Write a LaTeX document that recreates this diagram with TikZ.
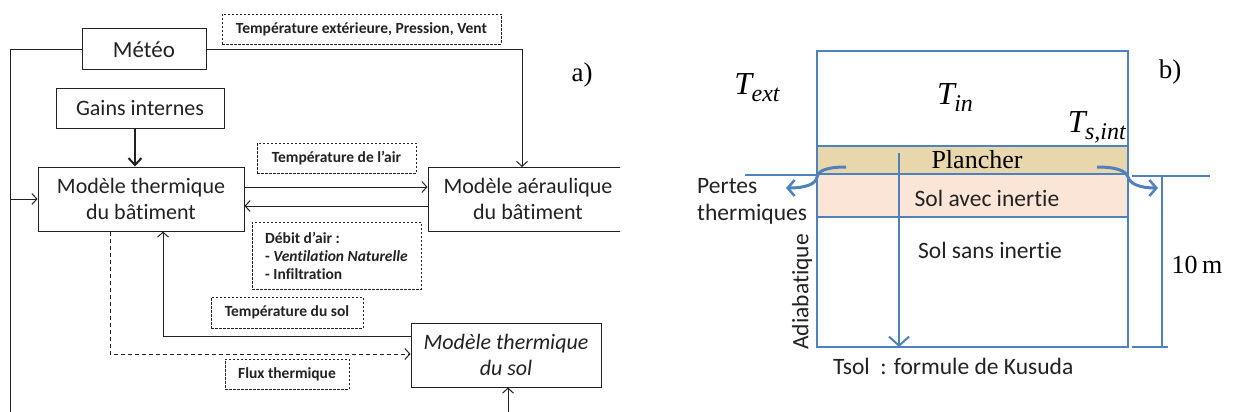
\documentclass[tikz,border=0pt]{standalone}
\usepackage{fontspec}
\setmainfont{Carlito}[Ligatures=NoCommon]
\newfontfamily\tnr{Liberation Serif}
\usetikzlibrary{arrows.meta}
\definecolor{bl}{HTML}{4F81BD}
\definecolor{sand}{HTML}{E8D6AC}
\definecolor{peach}{HTML}{FBE5D6}
\definecolor{ink}{HTML}{222222}
\newcommand{\Tsub}[1]{{\tnr\itshape\fontsize{32}{36}\selectfont T\kern-0.02em\raisebox{-0.22em}{\tnr\itshape\fontsize{24}{24}\selectfont #1}}}
\begin{document}
\begin{tikzpicture}[x=1pt,y=-1pt,
  box/.style={draw=ink,line width=1pt,inner sep=0pt,align=center,text=ink,font=\fontsize{22}{26}\selectfont},
  lab/.style={draw=ink,line width=0.9pt,dash pattern=on 2.5pt off 1.5pt,inner sep=0pt,text=ink,font=\bfseries\fontsize{15.5}{18}\selectfont},
  arr/.style={draw=ink,line width=1pt,-{Straight Barb[length=5pt,width=11pt]}},
  conn/.style={draw=ink,line width=1pt},
  barr/.style={draw=bl,line width=2pt,-{Straight Barb[length=9pt,width=20pt,line width=2pt]}},
  carr/.style={draw=bl,line width=3pt,-{Straight Barb[length=7pt,width=16pt,line width=2.5pt]}},
  bline/.style={draw=bl,line width=2pt},
  rtxt/.style={text=ink,font=\fontsize{23.5}{28}\selectfont,inner sep=0pt},
  serif/.style={text=black,font=\tnr\fontsize{27}{31}\selectfont,inner sep=0pt}
]
\useasboundingbox (0,0) rectangle (1235,412);
\fill[white] (0,0) rectangle (1235,412);

% ---------- panel a) ----------
\node[box,minimum width=124,minimum height=41,font=\fontsize{23}{27}\selectfont] (meteo) at (144,49.5) {Météo};
\node[box,minimum width=168,minimum height=39] (gains) at (140,108.5) {Gains internes};
\node[box,minimum width=206,minimum height=64] (therm) at (141,199) {Modèle thermique\\du bâtiment};
\begin{scope}
  \clip (0,0) rectangle (620,412);
  \node[box,minimum width=200,minimum height=64] (aer) at (528,199) {Modèle aéraulique\\du bâtiment};
\end{scope}
\node[box,minimum width=190,minimum height=64,font=\itshape\fontsize{22}{26}\selectfont] (sol) at (506,355) {Modèle thermique\\du sol};

\node[lab,minimum width=279,minimum height=30] (l1) at (361.5,29) {Température extérieure, Pression, Vent};
\node[lab,minimum width=159,minimum height=30] (l2) at (336.5,158) {Température de l’air};
\node[lab,minimum width=169,minimum height=67,align=left] (l3) at (336.5,255.5) {Débit d’air :\\- \textit{Ventilation Naturelle}\\- Infiltration};
\node[lab,minimum width=152,minimum height=31] (l4) at (287,312.5) {Température du sol};
\node[lab,minimum width=124,minimum height=30] (l5) at (287,374) {Flux thermique};

\node[serif] (la) at (582,75) {a)};

\coordinate (lb) at (10,412);
\coordinate (lj) at (10,199);
\coordinate (ae) at (522,167);
\coordinate (c1) at (110,354);
\coordinate (c2) at (163,336);
\coordinate (c3) at (508,412);
\coordinate (g1) at (135,128);
\coordinate (up) at (0,187);
\coordinate (dn) at (0,206);

\draw[conn] (meteo.west) -| (lb);
\draw[arr] (lj) -- (therm.west);
\draw[arr] (meteo.east) -| (ae);
\draw[draw=ink,line width=2.2pt,-{Straight Barb[length=7pt,width=13pt,line width=2pt]}] (g1) -- (g1 |- therm.north);
\draw[arr] (therm.east |- up) -- (aer.west |- up);
\draw[arr] (aer.west |- dn) -- (therm.east |- dn);
\draw[arr,dash pattern=on 4pt off 3pt] (therm.south -| c1) |- (sol.west |- c1);
\draw[arr] (sol.west |- c2) -| (therm.south -| c2);
\draw[arr] (c3) -- (sol.south -| c3);

% ---------- panel b) ----------
\fill[sand] (817,146) rectangle (1128,174);
\fill[peach] (817,174) rectangle (1128,217);
\draw[bline] (817,51) rectangle (1128,347);
\draw[bline] (817,146) -- (1128,146);
\draw[bline] (817,174) -- (1128,174);
\draw[bline] (817,217) -- (1128,217);
\draw[bline] (745,175) -- (817,175);
\draw[bline] (1132,176) -- (1210,176);
\draw[bline] (1162,176) -- (1162,347);
\draw[bline] (1132,347) -- (1168,347);

\coordinate (va) at (899,153);
\coordinate (vb) at (899,347);
\draw[barr] (va) -- (vb);

\coordinate (cl0) at (846,167);
\coordinate (cl1) at (786,188);
\coordinate (cr0) at (1097,167);
\coordinate (cr1) at (1158,188);
\draw[carr] (cl0) .. controls (826,167) and (818,171) .. (817,177) .. controls (816,184) and (806,188) .. (cl1);
\draw[carr] (cr0) .. controls (1117,167) and (1126,171) .. (1128,177) .. controls (1130,184) and (1140,188) .. (cr1);

\node[text=black,inner sep=0pt] (text) at (757,88) {\Tsub{ext}};
\node[text=black,inner sep=0pt] (tin) at (955,98) {\Tsub{in}};
\node[text=black,inner sep=0pt,anchor=east] (tsi) at (1126,127) {\Tsub{s,int}};
\node[serif] (lbb) at (1170,72) {b)};
\node[text=black,font=\tnr\fontsize{26}{30}\selectfont,inner sep=0pt] (pl) at (977,160) {Plancher};
\node[rtxt] (sai) at (987,198) {Sol avec inertie};
\node[rtxt] (ssi) at (990,250) {Sol sans inertie};
\node[rtxt,align=left,anchor=west,font=\fontsize{23.5}{27}\selectfont] (pt) at (697,201) {Pertes\\thermiques};
\node[rtxt,rotate=90] (adi) at (802,292) {Adiabatique};
\node[rtxt,anchor=west] (ts) at (833,366) {Tsol\ \ : formule de Kusuda};
\node[text=black,font=\tnr\fontsize{26}{30}\selectfont,inner sep=0pt] (dm) at (1197,265) {10\,m};
\end{tikzpicture}
\end{document}
